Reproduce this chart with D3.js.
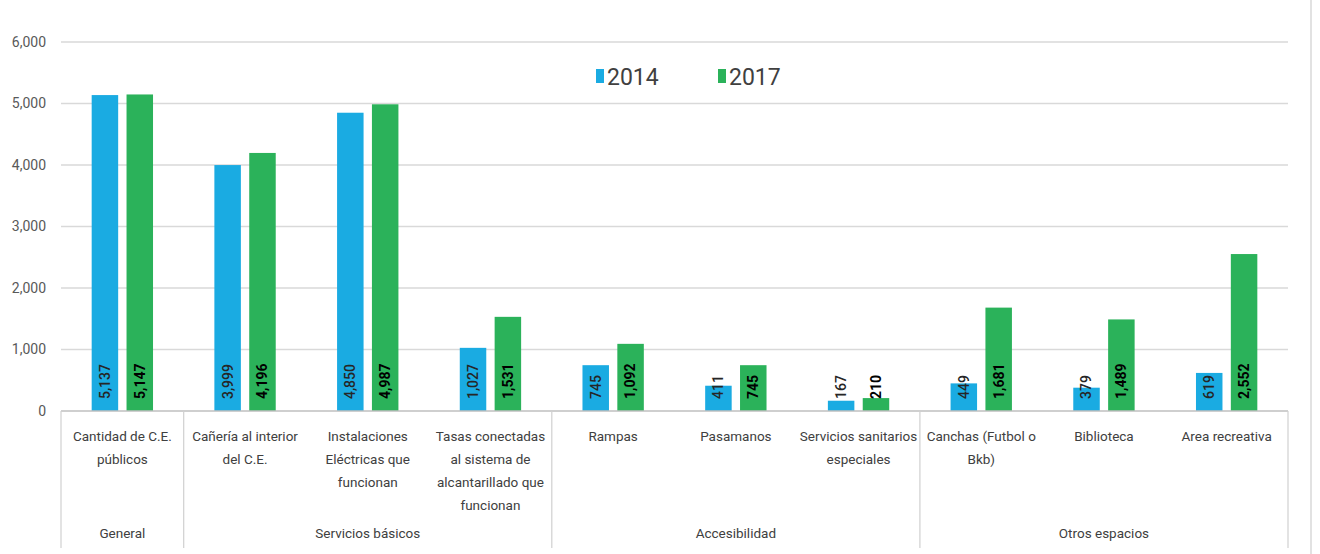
<!DOCTYPE html>
<html>
<head>
<meta charset="utf-8">
<script src="https://cdn.jsdelivr.net/npm/d3@7"></script>
<style>
  body { margin: 0; background: #fff; }
  text { font-family: "Liberation Sans Narrow", "Roboto", "Noto Sans", sans-serif; }
</style>
</head>
<body>
<div id="chart"></div>
<script>
// datos
var categorias = [
  "Cantidad de C.E. públicos", "Cañería al interior del C.E.",
  "Instalaciones Eléctricas que funcionan",
  "Tasas conectadas al sistema de alcantarillado que funcionan",
  "Rampas", "Pasamanos", "Servicios sanitarios especiales",
  "Canchas (Futbol o Bkb)", "Biblioteca", "Area recreativa"
];
var lineasCategoria = [
  ["Cantidad de C.E.", "públicos"],
  ["Cañería al interior", "del C.E."],
  ["Instalaciones", "Eléctricas que", "funcionan"],
  ["Tasas conectadas", "al sistema de", "alcantarillado que", "funcionan"],
  ["Rampas"],
  ["Pasamanos"],
  ["Servicios sanitarios", "especiales"],
  ["Canchas (Futbol o", "Bkb)"],
  ["Biblioteca"],
  ["Area recreativa"]
];
var grupos = ["General", "Servicios básicos", "Accesibilidad", "Otros espacios"];
var grupoTamano = [1, 3, 3, 3];
var series = ["2014", "2017"];
var valores2014 = [5137, 3999, 4850, 1027, 745, 411, 167, 449, 379, 619];
var valores2017 = [5147, 4196, 4987, 1531, 1092, 745, 210, 1681, 1489, 2552];
var ticksY = [0, 1000, 2000, 3000, 4000, 5000, 6000];

// parametros
var width = 1320, height = 554;
var margenIzq = 61, margenDer = 1288, margenSup = 42, base = 411;
var colores = { "2014": "#1aabe2", "2017": "#2bb25a" };

var data = categorias.map(function (c, i) {
  return { cat: c, vals: [{ s: "2014", v: valores2014[i] }, { s: "2017", v: valores2017[i] }] };
});

var svg = d3.select("#chart").append("svg")
  .attr("width", width).attr("height", height);

var x0 = d3.scaleBand().domain(categorias).range([margenIzq, margenDer]);
var bw = x0.bandwidth();
var x1 = d3.scaleBand().domain(series).range([bw * 0.25, bw * 0.75]).paddingInner(0.24);
var y = d3.scaleLinear().domain([0, 6000]).range([base, margenSup]);

/* grid + eje Y */
svg.append("g").selectAll("line")
  .data(ticksY.filter(d => d > 0)).enter()
  .append("line")
  .attr("x1", margenIzq).attr("x2", margenDer)
  .attr("y1", d => y(d)).attr("y2", d => y(d))
  .attr("stroke", "#d9d9d9").attr("stroke-width", 1.5);

var yAxis = d3.axisLeft(y).tickValues(ticksY).tickFormat(d3.format(",")).tickSize(0).tickPadding(0);
var gy = svg.append("g").attr("transform", "translate(46,0)").call(yAxis);
gy.select(".domain").remove();
gy.selectAll("text").attr("fill", "#595959").style("font-size", "14px");

/* barras */
var grp = svg.append("g").selectAll("g")
  .data(data).enter().append("g")
  .attr("transform", d => `translate(${x0(d.cat)},0)`);

grp.selectAll("rect")
  .data(d => d.vals).enter()
  .append("rect")
  .attr("x", d => x1(d.s))
  .attr("width", x1.bandwidth())
  .attr("y", d => y(d.v))
  .attr("height", d => base - y(d.v))
  .attr("fill", d => colores[d.s]);

grp.selectAll("text.etq")
  .data(d => d.vals).enter()
  .append("text")
  .attr("class", "etq")
  .attr("transform", d => `translate(${x1(d.s) + x1.bandwidth() / 2},${base - 12}) rotate(-90)`)
  .attr("dy", "0.35em")
  .attr("fill", d => d.s === "2014" ? "#262626" : "#000")
  .style("font-weight", d => d.s === "2014" ? "500" : "bold")
  .style("font-size", "14px")
  .text(d => d3.format(",")(d.v));

/* eje X */
svg.append("line")
  .attr("x1", margenIzq).attr("x2", margenDer).attr("y1", base).attr("y2", base)
  .attr("stroke", "#bfbfbf").attr("stroke-width", 1.5);

var etiquetas = svg.append("g").selectAll("text")
  .data(data).enter()
  .append("text")
  .attr("text-anchor", "middle")
  .attr("fill", "#404040")
  .style("font-size", "13.5px");
etiquetas.each(function (d, i) {
  var t = d3.select(this);
  lineasCategoria[i].forEach(function (l, j) {
    t.append("tspan")
      .attr("x", x0(d.cat) + bw / 2)
      .attr("y", 441 + j * 23)
      .text(l);
  });
});

var idx = 0;
var limites = [margenIzq];
grupos.forEach(function (g, k) {
  var ini = categorias[idx];
  var fin = categorias[idx + grupoTamano[k] - 1];
  var xa = x0(ini), xb = x0(fin) + bw;
  limites.push(xb);
  svg.append("text")
    .attr("x", (xa + xb) / 2).attr("y", 538)
    .attr("text-anchor", "middle")
    .attr("fill", "#404040")
    .style("font-size", "13.5px")
    .text(g);
  idx += grupoTamano[k];
});

svg.append("g").selectAll("line")
  .data(limites).enter()
  .append("line")
  .attr("x1", d => d).attr("x2", d => d)
  .attr("y1", base).attr("y2", 548)
  .attr("stroke", "#d0d0d0").attr("stroke-width", 1.2);

/* borde derecho */
svg.append("line")
  .attr("x1", 1311).attr("x2", 1311).attr("y1", 0).attr("y2", height)
  .attr("stroke", "#d9d9d9").attr("stroke-width", 1.5);

/* leyenda */
var leyenda = svg.append("g").selectAll("g")
  .data(series).enter().append("g")
  .attr("transform", (d, i) => `translate(${596 + i * 122},0)`);
leyenda.append("rect")
  .attr("x", 0).attr("y", 69).attr("width", 8).attr("height", 14)
  .attr("fill", d => colores[d]);
leyenda.append("text")
  .attr("x", 11).attr("y", 85)
  .attr("fill", "#404040")
  .style("font-size", "23px")
  .text(d => d);
</script>
</body>
</html>
